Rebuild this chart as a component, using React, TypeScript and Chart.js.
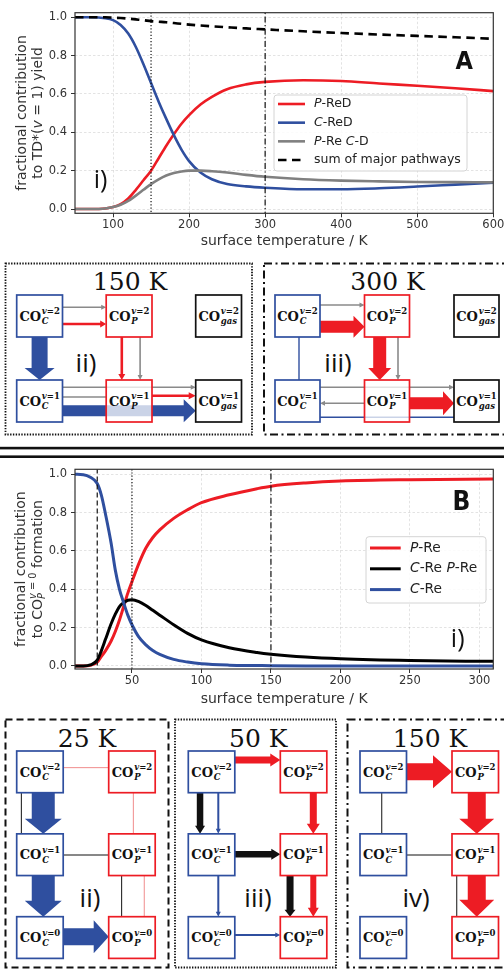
import React, { useEffect, useRef } from 'react';
import { Chart, registerables } from 'chart.js';

Chart.register(...registerables);

// ---------------- Panel A : fractional contribution to TD*(v=1) yield ----------------
const tempA = [50, 70, 90, 100, 110, 120, 130, 140, 150, 160, 170, 180, 190, 200, 215, 230, 250, 275, 300, 350, 400, 450, 500, 550, 600];
const pReD = [0, 0, 0.003, 0.01, 0.025, 0.055, 0.1, 0.15, 0.2, 0.265, 0.33, 0.39, 0.445, 0.49, 0.545, 0.585, 0.625, 0.65, 0.663, 0.672, 0.668, 0.655, 0.643, 0.63, 0.615];
const cReD = [1, 1, 0.995, 0.985, 0.96, 0.915, 0.845, 0.755, 0.657, 0.56, 0.47, 0.385, 0.31, 0.25, 0.19, 0.155, 0.13, 0.118, 0.111, 0.103, 0.103, 0.108, 0.117, 0.127, 0.137];
const pReCD = [0, 0, 0.003, 0.01, 0.022, 0.042, 0.07, 0.1, 0.13, 0.155, 0.175, 0.188, 0.196, 0.2, 0.2, 0.197, 0.19, 0.178, 0.168, 0.155, 0.148, 0.144, 0.141, 0.14, 0.139];
const sumMajor = [1, 1, 1, 0.998, 0.996, 0.993, 0.989, 0.985, 0.98, 0.977, 0.974, 0.97, 0.966, 0.962, 0.957, 0.953, 0.948, 0.942, 0.937, 0.927, 0.918, 0.91, 0.903, 0.896, 0.888];
const markTempsA = [150, 300];
const markStylesA = ['dotted', 'dashdot'];
const xTicksA = [100, 200, 300, 400, 500, 600];

// ---------------- Panel B : fractional contribution to CO_P^{v=0} formation ----------------
const tempB = [9, 15, 20, 25, 28, 31, 35, 38, 41, 44, 47, 50, 55, 60, 65, 70, 80, 90, 100, 120, 140, 150, 175, 200, 250, 310];
const pRe = [0, 0, 0.003, 0.02, 0.05, 0.08, 0.13, 0.18, 0.24, 0.31, 0.38, 0.44, 0.535, 0.615, 0.67, 0.71, 0.77, 0.815, 0.852, 0.893, 0.925, 0.938, 0.955, 0.965, 0.972, 0.975];
const cRePRe = [0, 0, 0.005, 0.03, 0.08, 0.14, 0.22, 0.27, 0.31, 0.33, 0.343, 0.345, 0.335, 0.315, 0.29, 0.265, 0.215, 0.17, 0.136, 0.095, 0.07, 0.061, 0.046, 0.037, 0.028, 0.024];
const cRe = [1, 0.998, 0.985, 0.952, 0.89, 0.79, 0.64, 0.5, 0.4, 0.33, 0.265, 0.215, 0.15, 0.11, 0.08, 0.06, 0.034, 0.02, 0.011, 0.004, 0.002, 0.001, 0, 0, 0, 0];
const markTempsB = [25, 50, 150];
const markStylesB = ['dashed', 'dotted', 'dashdot'];
const xTicksB = [50, 100, 150, 200, 250, 300];

const yTicks = [0, 0.2, 0.4, 0.6, 0.8, 1.0];
const xAxisTitle = 'surface temperature / K';

// ---------------- styles ----------------
const RED = '#ed1c24';
const BLUE = '#2f4f9f';
const GRAY = '#808080';
const INK = '#111111';
const AXIS = '#333333';
const GRIDC = 'rgba(0,0,0,0.14)';
const SANS = '"DejaVu Sans", sans-serif';
const SERIF = '"DejaVu Serif", serif';
const NARROW = '"Liberation Sans Narrow", "DejaVu Sans Condensed", "DejaVu Sans", sans-serif';
const ROMAN = '"Open Sans", "DejaVu Sans", sans-serif';
const DASH: Record<string, number[]> = {
  dotted: [1.2, 2],
  dashed: [5, 3],
  dashdot: [6, 2.5, 1.2, 2.5],
};

type Seg = { t: string; it?: boolean };
type Piece = Seg | { sup: Seg[]; sub: Seg[] };

const legendLabelsA: Piece[][] = [
  [{ t: 'P', it: true }, { t: '-ReD' }],
  [{ t: 'C', it: true }, { t: '-ReD' }],
  [{ t: 'P', it: true }, { t: '-Re ' }, { t: 'C', it: true }, { t: '-D' }],
  [{ t: 'sum of major pathways' }],
];
const legendLabelsB: Piece[][] = [
  [{ t: 'P', it: true }, { t: '-Re' }],
  [{ t: 'C', it: true }, { t: '-Re ' }, { t: 'P', it: true }, { t: '-Re' }],
  [{ t: 'C', it: true }, { t: '-Re' }],
];
const yTitleA: Piece[][] = [
  [{ t: 'fractional contribution' }],
  [{ t: 'to TD*(' }, { t: 'v', it: true }, { t: ' = 1) yield' }],
];
const yTitleB: Piece[][] = [
  [{ t: 'fractional contribution' }],
  [{ t: 'to CO' }, { sup: [{ t: 'v', it: true }, { t: ' = 0' }], sub: [{ t: 'P', it: true }] }, { t: ' formation' }],
];

function fontStr(size: number, it?: boolean) {
  return `${it ? 'italic ' : ''}normal ${size}px ${SANS}`;
}
function segsWidth(ctx: any, segs: Seg[], size: number) {
  let w = 0;
  for (const s of segs) {
    ctx.font = fontStr(size, s.it);
    w += ctx.measureText(s.t).width;
  }
  return w;
}
function pieceWidth(ctx: any, p: any, size: number) {
  if (p.sup) return Math.max(segsWidth(ctx, p.sup, size * 0.7), segsWidth(ctx, p.sub, size * 0.7));
  return segsWidth(ctx, [p], size);
}
function drawRich(ctx: any, pieces: Piece[], x: number, y: number, size: number, align: string, color: string, rot: number) {
  ctx.save();
  ctx.translate(x, y);
  if (rot) ctx.rotate(rot);
  let total = 0;
  for (const p of pieces) total += pieceWidth(ctx, p, size);
  let cx = align === 'center' ? -total / 2 : 0;
  ctx.fillStyle = color;
  ctx.textBaseline = 'middle';
  ctx.textAlign = 'left';
  for (const p of pieces as any[]) {
    if (p.sup) {
      const s = size * 0.7;
      let sx = cx;
      for (const q of p.sup) {
        ctx.font = fontStr(s, q.it);
        ctx.fillText(q.t, sx, -size * 0.36);
        sx += ctx.measureText(q.t).width;
      }
      sx = cx;
      for (const q of p.sub) {
        ctx.font = fontStr(s, q.it);
        ctx.fillText(q.t, sx, size * 0.3);
        sx += ctx.measureText(q.t).width;
      }
      cx += pieceWidth(ctx, p, size);
    } else {
      ctx.font = fontStr(size, p.it);
      ctx.fillText(p.t, cx, 0);
      cx += ctx.measureText(p.t).width;
    }
  }
  ctx.restore();
}

// decorations per chart (looked up by key to keep them out of Chart.js option proxies)
const DECOR: Record<string, any> = {
  A: {
    yTitle: yTitleA,
    yTitleX: [22, 38],
    legend: {
      box: [274, 95, 193, 76], y0: 104, dy: 18.67, sx1: 278, sx2: 305, tx: 314, size: 12.5,
      items: [
        { label: legendLabelsA[0], color: RED, width: 2.6 },
        { label: legendLabelsA[1], color: BLUE, width: 2.6 },
        { label: legendLabelsA[2], color: GRAY, width: 2.6 },
        { label: legendLabelsA[3], color: '#000', width: 2.6, dash: [8.5, 5.5] },
      ],
    },
    letter: { t: 'A', x: 464.3, y: 62, size: 25 },
    roman: { t: 'i)', x: 100.5, y: 181 },
  },
  B: {
    yTitle: yTitleB,
    yTitleX: [21.5, 38],
    legend: {
      box: [366, 81.7, 120, 66.3], y0: 93, dy: 20.8, sx1: 370, sx2: 400.7, tx: 410, size: 13.8,
      items: [
        { label: legendLabelsB[0], color: RED, width: 3 },
        { label: legendLabelsB[1], color: '#000', width: 3 },
        { label: legendLabelsB[2], color: BLUE, width: 3 },
      ],
    },
    letter: { t: 'B', x: 461.3, y: 48.5, size: 26 },
    roman: { t: 'i)', x: 457.7, y: 184.5 },
  },
};

const decorPlugin = {
  id: 'decor',
  afterDatasetsDraw(chart: any, _args: any, opts: any) {
    const d = DECOR[opts.key];
    if (!d) return;
    const ctx = chart.ctx;
    const a = chart.chartArea;
    ctx.save();
    ctx.setLineDash([]);
    ctx.strokeStyle = AXIS;
    ctx.lineWidth = 1.2;
    ctx.strokeRect(a.left, a.top, a.right - a.left, a.bottom - a.top);
    const cy = (a.top + a.bottom) / 2;
    d.yTitle.forEach((line: Piece[], i: number) => drawRich(ctx, line, d.yTitleX[i], cy, 14, 'center', AXIS, -Math.PI / 2));
    const L = d.legend;
    const [bx, by, bw, bh] = L.box;
    ctx.beginPath();
    if (ctx.roundRect) ctx.roundRect(bx, by, bw, bh, 3);
    else ctx.rect(bx, by, bw, bh);
    ctx.fillStyle = 'rgba(255,255,255,0.85)';
    ctx.fill();
    ctx.strokeStyle = '#d4d4d4';
    ctx.lineWidth = 1;
    ctx.stroke();
    L.items.forEach((it: any, i: number) => {
      const y = L.y0 + i * L.dy;
      ctx.strokeStyle = it.color;
      ctx.lineWidth = it.width;
      ctx.setLineDash(it.dash || []);
      ctx.beginPath();
      ctx.moveTo(L.sx1, y);
      ctx.lineTo(L.sx2, y);
      ctx.stroke();
      ctx.setLineDash([]);
      drawRich(ctx, it.label, L.tx, y, L.size, 'left', '#222', 0);
    });
    ctx.fillStyle = INK;
    ctx.textAlign = 'center';
    ctx.textBaseline = 'middle';
    ctx.font = `bold ${d.letter.size}px ${NARROW}`;
    ctx.fillText(d.letter.t, d.letter.x, d.letter.y);
    ctx.font = `normal 25px ${ROMAN}`;
    ctx.fillText(d.roman.t, d.roman.x, d.roman.y);
    ctx.restore();
  },
};

const SPEC_A = {
  key: 'A', temps: tempA, xMin: 50, xMax: 600, xTicks: xTicksA, yMin: -0.0224, yMax: 1.024,
  top: 12.7, right: 10.7, xAxisH: 41.7, xTitlePad: 4.9,
  series: [
    { label: 'P-ReD', values: pReD, color: RED, width: 2.6, order: 4 },
    { label: 'C-ReD', values: cReD, color: BLUE, width: 2.6, order: 3 },
    { label: 'P-Re C-D', values: pReCD, color: GRAY, width: 2.6, order: 2 },
    { label: 'sum of major pathways', values: sumMajor, color: '#000', width: 2.6, dash: [8.5, 5.5], order: 1 },
  ],
  marks: markTempsA, markStyles: markStylesA,
};
const SPEC_B = {
  key: 'B', temps: tempB, xMin: 9, xMax: 310, xTicks: xTicksB, yMin: -0.016, yMax: 1.026,
  top: 14.3, right: 10.7, xAxisH: 41, xTitlePad: 2.6,
  series: [
    { label: 'P-Re', values: pRe, color: RED, width: 3, order: 3 },
    { label: 'C-Re P-Re', values: cRePRe, color: '#000', width: 3, order: 2 },
    { label: 'C-Re', values: cRe, color: BLUE, width: 3, order: 1 },
  ],
  marks: markTempsB, markStyles: markStylesB,
};

function buildChart(canvas: HTMLCanvasElement, spec: any) {
  const datasets: any[] = [
    ...spec.series.map((s: any) => ({
      label: s.label,
      data: spec.temps.map((t: number, i: number) => ({ x: t, y: s.values[i] })),
      borderColor: s.color,
      borderWidth: s.width,
      borderDash: s.dash || [],
      pointRadius: 0,
      pointHoverRadius: 0,
      cubicInterpolationMode: 'monotone',
      fill: false,
      order: s.order,
    })),
    ...spec.marks.map((t: number, i: number) => ({
      label: '',
      data: [{ x: t, y: -1 }, { x: t, y: 2 }],
      borderColor: INK,
      borderWidth: 1.2,
      borderDash: DASH[spec.markStyles[i]],
      pointRadius: 0,
      pointHoverRadius: 0,
      fill: false,
      order: 0,
    })),
  ];
  const tickFont = { family: SANS, size: 11.5 };
  return new Chart(canvas, {
    type: 'line',
    data: { datasets },
    plugins: [decorPlugin],
    options: {
      animation: false,
      responsive: false,
      maintainAspectRatio: false,
      devicePixelRatio: 1,
      events: [],
      layout: { padding: { left: 0, top: spec.top, right: spec.right, bottom: 0 } },
      plugins: {
        legend: { display: false },
        tooltip: { enabled: false },
        decor: { key: spec.key },
      } as any,
      scales: {
        x: {
          type: 'linear',
          min: spec.xMin,
          max: spec.xMax,
          afterBuildTicks: (s: any) => {
            s.ticks = spec.xTicks.map((v: number) => ({ value: v }));
          },
          afterFit: (s: any) => {
            s.height = spec.xAxisH;
            s.paddingLeft = 0; s.paddingRight = 0; s.paddingTop = 0; s.paddingBottom = 0;
          },
          ticks: {
            autoSkip: false, maxRotation: 0, minRotation: 0,
            padding: 1, color: AXIS, font: tickFont,
            callback: (v: any) => String(v),
          },
          grid: { color: GRIDC, lineWidth: 0.8, tickLength: 4, tickColor: AXIS, tickWidth: 1 },
          border: { display: false, dash: [2.5, 2] },
          title: {
            display: true, text: xAxisTitle, color: AXIS,
            font: { family: SANS, size: 14 }, padding: { top: 0, bottom: spec.xTitlePad },
          },
        },
        y: {
          type: 'linear',
          min: spec.yMin,
          max: spec.yMax,
          afterBuildTicks: (s: any) => {
            s.ticks = yTicks.map((v: number) => ({ value: v }));
          },
          afterFit: (s: any) => {
            s.width = 75;
            s.paddingLeft = 0; s.paddingRight = 0; s.paddingTop = 0; s.paddingBottom = 0;
          },
          ticks: {
            padding: 4, color: AXIS, font: tickFont,
            callback: (v: any) => Number(v).toFixed(1),
          },
          grid: { color: GRIDC, lineWidth: 0.8, tickLength: 4, tickColor: AXIS, tickWidth: 1 },
          border: { display: false, dash: [2.5, 2] },
        },
      },
    } as any,
  });
}

// ---------------- reaction-pathway schematics ----------------
const NODE_COLORS: Record<string, string> = { C: BLUE, P: RED, gas: INK };
const ARROW_COLORS: Record<string, string> = { r: RED, b: BLUE, k: INK, g: '#8a8a8a', lr: '#f08c8c' };

const nodesTop = [
  { c: 0, r: 0, k: 'C', v: 2 }, { c: 1, r: 0, k: 'P', v: 2 }, { c: 2, r: 0, k: 'gas', v: 2 },
  { c: 0, r: 1, k: 'C', v: 1 }, { c: 1, r: 1, k: 'P', v: 1 }, { c: 2, r: 1, k: 'gas', v: 1 },
];
const nodesBottom = [
  { c: 0, r: 0, k: 'C', v: 2 }, { c: 1, r: 0, k: 'P', v: 2 },
  { c: 0, r: 1, k: 'C', v: 1 }, { c: 1, r: 1, k: 'P', v: 1 },
  { c: 0, r: 2, k: 'C', v: 0 }, { c: 1, r: 2, k: 'P', v: 0 },
];

const arrowsTop150 = [
  { f: [0, 0], t: [1, 0], c: 'g', w: 1.6, off: -8.7, hw: 5, hl: 5 },
  { f: [0, 0], t: [1, 0], c: 'r', w: 2.6, off: 8, hw: 7, hl: 6 },
  { f: [0, 0], t: [0, 1], c: 'b', w: 16, off: 0, hw: 30, hl: 12 },
  { f: [1, 0], t: [1, 1], c: 'r', w: 2.6, off: -7.3, hw: 7, hl: 6 },
  { f: [1, 0], t: [1, 1], c: 'g', w: 1.6, off: 11, hw: 5, hl: 5 },
  { f: [0, 1], t: [2, 1], c: 'g', w: 1.6, off: -13.7, hw: 5, hl: 5 },
  { f: [0, 1], t: [1, 1], c: 'g', w: 1.6, off: -4 },
  { f: [1, 1], t: [2, 1], c: 'r', w: 2.6, off: -5.3, hw: 7, hl: 7 },
  { f: [0, 1], t: [2, 1], c: 'b', w: 11, off: 9.7, hw: 23, hl: 12 },
];
const arrowsTop300 = [
  { f: [0, 0], t: [1, 0], c: 'g', w: 1.6, off: -11, hw: 5, hl: 5 },
  { f: [0, 0], t: [1, 0], c: 'r', w: 12, off: 10.7, hw: 22, hl: 11 },
  { f: [0, 0], t: [0, 1], c: 'b', w: 1.4, off: 1.5 },
  { f: [1, 0], t: [1, 1], c: 'r', w: 13, off: -7.3, hw: 23, hl: 12 },
  { f: [1, 0], t: [1, 1], c: 'g', w: 1.6, off: 11, hw: 5, hl: 5 },
  { f: [0, 1], t: [2, 1], c: 'g', w: 1.6, off: -13.7, hw: 5, hl: 5 },
  { f: [1, 1], t: [0, 1], c: 'g', w: 1.6, off: 2.3, hw: 5, hl: 5 },
  { f: [1, 1], t: [2, 1], c: 'r', w: 12, off: 2.3, hw: 24, hl: 11 },
  { f: [0, 1], t: [2, 1], c: 'b', w: 1.4, off: 16.3 },
];
const arrowsBottom25 = [
  { f: [0, 0], t: [1, 0], c: 'lr', w: 1, off: -4.2 },
  { f: [0, 0], t: [0, 1], c: 'k', w: 1, off: -18.6 },
  { f: [0, 0], t: [0, 1], c: 'b', w: 23, off: 3.3, hw: 37, hl: 15 },
  { f: [1, 0], t: [1, 1], c: 'lr', w: 1, off: 1.4 },
  { f: [0, 1], t: [1, 1], c: 'k', w: 1, off: 0.3 },
  { f: [0, 1], t: [0, 2], c: 'b', w: 23, off: 3.3, hw: 37, hl: 16 },
  { f: [1, 1], t: [1, 2], c: 'k', w: 1, off: -10.3 },
  { f: [1, 1], t: [1, 2], c: 'lr', w: 1, off: 12.3 },
  { f: [0, 2], t: [1, 2], c: 'b', w: 17, off: -0.85, hw: 33, hl: 15 },
];
const arrowsBottom50 = [
  { f: [0, 0], t: [1, 0], c: 'r', w: 7, off: -11.85, hw: 13, hl: 10 },
  { f: [0, 0], t: [0, 1], c: 'k', w: 6.5, off: -11.5, hw: 10, hl: 8 },
  { f: [0, 0], t: [0, 1], c: 'b', w: 2, off: 6.75, hw: 5, hl: 5 },
  { f: [1, 0], t: [1, 1], c: 'r', w: 7, off: 9.75, hw: 13, hl: 10 },
  { f: [0, 1], t: [1, 1], c: 'k', w: 6.5, off: -0.4, hw: 11, hl: 9 },
  { f: [0, 1], t: [0, 2], c: 'b', w: 2, off: 6.75, hw: 5, hl: 5 },
  { f: [1, 1], t: [1, 2], c: 'k', w: 7, off: -13.5, hw: 11, hl: 7 },
  { f: [1, 1], t: [1, 2], c: 'r', w: 6, off: 9.75, hw: 11, hl: 9 },
  { f: [0, 2], t: [1, 2], c: 'b', w: 2, off: -2.5, hw: 5, hl: 5 },
];
const arrowsBottom150 = [
  { f: [0, 0], t: [1, 0], c: 'r', w: 17, off: 0, hw: 33, hl: 19 },
  { f: [0, 0], t: [0, 1], c: 'k', w: 1, off: -1.5 },
  { f: [1, 0], t: [1, 1], c: 'r', w: 18, off: 1.5, hw: 35, hl: 15 },
  { f: [0, 1], t: [1, 1], c: 'k', w: 1, off: 0.3 },
  { f: [1, 1], t: [1, 2], c: 'k', w: 1, off: -18.5 },
  { f: [1, 1], t: [1, 2], c: 'r', w: 18, off: 1.5, hw: 35, hl: 17 },
];

const FRAME_DASH: Record<string, [string, number]> = {
  dotted: ['1.4 1.4', 1.8],
  dashed: ['7 4', 2],
  dashdot: ['8 3.5 2 3.5', 2],
};

const PANELS = [
  {
    frame: { x: 5.5, y: 263.5, w: 246.5, h: 171, s: 'dotted' },
    title: { t: '150 K', x: 130, y: 290 }, roman: { t: 'ii)', x: 86, y: 362 },
    geo: { x0: 16.7, y0: 295, cs: 89.5, rs: 85, bw: 45.8, bh: 42 },
    nodes: nodesTop, arrows: arrowsTop150,
  },
  {
    frame: { x: 264, y: 263.5, w: 270, h: 171, s: 'dashdot' },
    title: { t: '300 K', x: 387.5, y: 290 }, roman: { t: 'iii)', x: 338, y: 362 },
    geo: { x0: 275, y0: 295, cs: 89.5, rs: 85, bw: 45, bh: 42 },
    nodes: nodesTop, arrows: arrowsTop300,
  },
  {
    frame: { x: 5.5, y: 719.5, w: 163, h: 248, s: 'dashed' },
    title: { t: '25 K', x: 87, y: 746.5 }, roman: { t: 'ii)', x: 90, y: 896.5 },
    geo: { x0: 16.7, y0: 751, cs: 92, rs: 82.85, bw: 46.5, bh: 41.7 },
    nodes: nodesBottom, arrows: arrowsBottom25,
  },
  {
    frame: { x: 175, y: 719.5, w: 161, h: 248, s: 'dotted' },
    title: { t: '50 K', x: 258.3, y: 746.5 }, roman: { t: 'iii)', x: 258, y: 896.5 },
    geo: { x0: 188.3, y0: 751, cs: 92, rs: 82.85, bw: 46.5, bh: 41.7 },
    nodes: nodesBottom, arrows: arrowsBottom50,
  },
  {
    frame: { x: 347.5, y: 719.5, w: 200, h: 248, s: 'dashdot' },
    title: { t: '150 K', x: 430, y: 746.5 }, roman: { t: 'iv)', x: 416, y: 896.5 },
    geo: { x0: 360, y0: 751, cs: 92, rs: 82.85, bw: 46.5, bh: 41.7 },
    nodes: nodesBottom, arrows: arrowsBottom150,
  },
];

let mctx: any = null;
function measure(t: string, font: string) {
  if (!mctx) mctx = document.createElement('canvas').getContext('2d');
  mctx.font = font;
  return mctx.measureText(t).width;
}

function boxRect(g: any, c: number, r: number) {
  return { x: g.x0 + c * g.cs, y: g.y0 + r * g.rs };
}

function Arrow({ a, g }: any) {
  const r1 = boxRect(g, a.f[0], a.f[1]);
  const r2 = boxRect(g, a.t[0], a.t[1]);
  let sx, sy, ex, ey;
  if (a.f[1] === a.t[1]) {
    const dir = a.t[0] > a.f[0] ? 1 : -1;
    sy = ey = r1.y + g.bh / 2 + a.off;
    sx = dir > 0 ? r1.x + g.bw : r1.x;
    ex = dir > 0 ? r2.x : r2.x + g.bw;
  } else {
    const dir = a.t[1] > a.f[1] ? 1 : -1;
    sx = ex = r1.x + g.bw / 2 + a.off;
    sy = dir > 0 ? r1.y + g.bh : r1.y;
    ey = dir > 0 ? r2.y : r2.y + g.bh;
  }
  const color = ARROW_COLORS[a.c];
  if (!a.hw) {
    return <line x1={sx} y1={sy} x2={ex} y2={ey} stroke={color} strokeWidth={a.w} />;
  }
  const L = Math.hypot(ex - sx, ey - sy);
  const ux = (ex - sx) / L, uy = (ey - sy) / L;
  const nx = -uy, ny = ux;
  const bx = ex - ux * a.hl, by = ey - uy * a.hl;
  const w = a.w / 2, h = a.hw / 2;
  const pts = [
    [sx + nx * w, sy + ny * w], [bx + nx * w, by + ny * w], [bx + nx * h, by + ny * h], [ex, ey],
    [bx - nx * h, by - ny * h], [bx - nx * w, by - ny * w], [sx - nx * w, sy - ny * w],
  ];
  return <polygon points={pts.map((p) => p.map((v) => v.toFixed(2)).join(',')).join(' ')} fill={color} />;
}

function NodeBox({ n, g }: any) {
  const r = boxRect(g, n.c, n.r);
  const cx = r.x + g.bw / 2, cy = r.y + g.bh / 2;
  const fCO = `bold 13px ${SERIF}`;
  const fS = `italic bold 8.5px ${SERIF}`;
  const sup = `v=${n.v}`;
  const wCO = measure('CO', fCO);
  const wS = Math.max(measure(sup, fS), measure(n.k, fS));
  const x0 = cx - (wCO + 0.8 + wS) / 2;
  return (
    <g>
      <rect x={r.x} y={r.y} width={g.bw} height={g.bh} fill="rgba(255,255,255,0.75)" stroke={NODE_COLORS[n.k]} strokeWidth={1.7} />
      <g fill={INK} fontFamily={SERIF} fontWeight="bold">
        <text x={x0} y={cy + 4.7} fontSize={13}>CO</text>
        <text x={x0 + wCO + 0.8} y={cy - 1.8} fontSize={8.5}>
          <tspan fontStyle="italic">v</tspan>
          <tspan>{`=${n.v}`}</tspan>
        </text>
        <text x={x0 + wCO + 0.8} y={cy + 8.2} fontSize={8.5} fontStyle="italic">{n.k}</text>
      </g>
    </g>
  );
}

function Panel({ p }: any) {
  const [dash, sw] = FRAME_DASH[p.frame.s];
  return (
    <g>
      <rect x={p.frame.x} y={p.frame.y} width={p.frame.w} height={p.frame.h} fill="none" stroke={INK} strokeWidth={sw} strokeDasharray={dash} />
      {p.arrows.map((a: any, i: number) => <Arrow key={i} a={a} g={p.geo} />)}
      {p.nodes.map((n: any, i: number) => <NodeBox key={i} n={n} g={p.geo} />)}
      <text x={p.title.x} y={p.title.y} textAnchor="middle" fontFamily={SERIF} fontSize={25} fill={INK}>{p.title.t}</text>
      <text x={p.roman.x} y={p.roman.y} textAnchor="middle" dominantBaseline="central" fontFamily={ROMAN} fontSize={26} fill={INK}>{p.roman.t}</text>
    </g>
  );
}

function Diagrams() {
  return (
    <svg width={504} height={970} style={{ position: 'absolute', left: 0, top: 0 }}>
      <rect x={0} y={446.8} width={504} height={2.6} fill={INK} />
      <rect x={0} y={455.4} width={504} height={2.6} fill={INK} />
      {PANELS.map((p, i) => <Panel key={i} p={p} />)}
    </svg>
  );
}

export default function App() {
  const refA = useRef<HTMLCanvasElement>(null);
  const refB = useRef<HTMLCanvasElement>(null);
  useEffect(() => {
    const ca = buildChart(refA.current as HTMLCanvasElement, SPEC_A);
    const cb = buildChart(refB.current as HTMLCanvasElement, SPEC_B);
    return () => {
      ca.destroy();
      cb.destroy();
    };
  }, []);
  return (
    <div style={{ position: 'absolute', left: 0, top: 0, width: 504, height: 970, overflow: 'hidden', background: '#fff' }}>
      <Diagrams />
      <canvas ref={refA} width={504} height={255} style={{ position: 'absolute', left: 0, top: 0, width: 504, height: 255 }} />
      <canvas ref={refB} width={504} height={255} style={{ position: 'absolute', left: 0, top: 455, width: 504, height: 255 }} />
    </div>
  );
}
